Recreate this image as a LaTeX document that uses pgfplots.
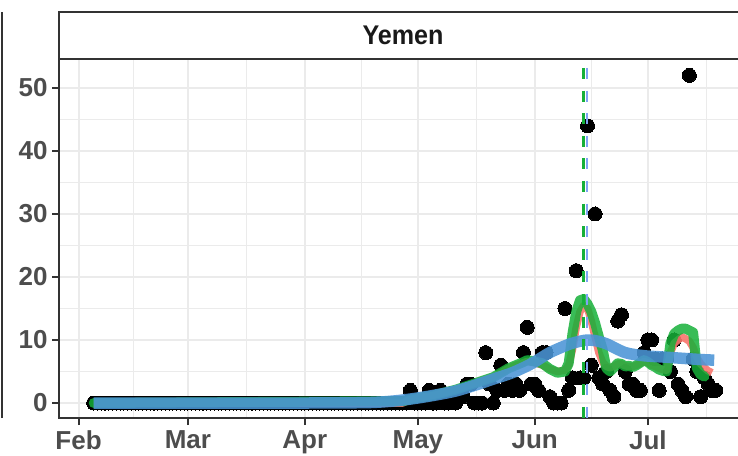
\documentclass[border=0pt]{standalone}
\usepackage{pgfplots}
\pgfplotsset{compat=1.18}
\usepackage{fontspec}
\setmainfont{Liberation Sans}
\newfontfamily\stripfont[FakeStretch=0.93]{Liberation Sans}
\definecolor{gridc}{HTML}{EBEBEB}
\definecolor{axc}{HTML}{333333}
\definecolor{txtc}{HTML}{4D4D4D}
\definecolor{redc}{HTML}{F8766D}
\definecolor{greenc}{RGB}{22,176,57}
\definecolor{bluec}{RGB}{75,148,214}
\definecolor{vblue}{HTML}{7FA3F5}
\begin{document}
\begin{tikzpicture}[x=1pt,y=1pt]
\draw[axc, line width=2pt] (1.5,37) -- (1.5,443);
\begin{axis}[
  at={(59pt,37pt)}, anchor=south west,
  scale only axis, width=688pt, height=359pt,
  xmin=-5.2, xmax=177.3, ymin=-2.38, ymax=54.6,
  axis line style={axc, line width=2pt},
  grid=both,
  major grid style={gridc, line width=2pt},
  minor grid style={gridc, line width=1pt},
  xtick={0,29,60,90,121,151},
  xticklabels={Feb,Mar,Apr,May,Jun,Jul},
  minor xtick={14.5,44.5,75,105.5,136,166.5},
  ytick={0,10,20,30,40,50},
  minor ytick={5,15,25,35,45},
  tick align=outside, tick pos=left,
  major tick length=7pt, minor tick length=0pt,
  tick style={axc, line width=2pt},
  ticklabel style={font=\fontsize{26}{26}\selectfont\bfseries, text=txtc},
  xticklabel style={yshift=-2pt},
  yticklabel style={xshift=-1pt},
  /pgf/number format/assume math mode=true,
  clip=true, clip marker paths=true,
]
\addplot[only marks, mark=*, mark size=7pt, black, mark options={line width=0pt}] table {
x y
4 0
5 0
6 0
7 0
8 0
9 0
10 0
11 0
12 0
13 0
14 0
15 0
16 0
17 0
18 0
19 0
20 0
21 0
22 0
23 0
24 0
25 0
26 0
27 0
28 0
29 0
30 0
31 0
32 0
33 0
34 0
35 0
36 0
37 0
38 0
39 0
40 0
41 0
42 0
43 0
44 0
45 0
46 0
47 0
48 0
49 0
50 0
51 0
52 0
53 0
54 0
55 0
56 0
57 0
58 0
59 0
60 0
61 0
62 0
63 0
64 0
65 0
66 0
67 0
68 0
69 0
70 0
71 0
72 0
73 0
74 0
75 0
76 0
77 0
78 0
79 0
80 0
81 0
82 0
83 0
84 0
85 0
86 0
87 0
88 2
89 0
90 0
91 0
92 0
93 2
94 0
95 0
96 2
97 0
98 0
99 1
100 0
101 1
102 1
103 3
104 3
105 0
106 0
107 0
108 8
109 3
110 0
111 2
112 6
113 2
114 3
115 2
116 3
117 2
118 8
119 12
120 3
121 3
122 2
123 8
124 8
125 1
126 0
127 0
128 0
129 15
130 2
131 4
132 21
133 4
134 4
135 44
136 6
137 30
138 4
139 3
140 5
141 2
142 1
143 13
144 14
145 5
146 3
147 3
148 2
149 2
150 8
151 10
152 10
153 7
154 2
155 7
156 7
157 5
158 10
159 3
160 2
161 1
162 52
163 7
164 5
165 1
166 4
167 3
168 2
169 2
};
\addplot[redc, opacity=0.9, line width=7.5pt, line join=round] table {
x y
4 0
86 0
88 0.6
90 0.8
92 1.0
94 1.2
96 1.5
98 1.8
100 2.1
102 2.5
104 2.9
106 3.3
108 3.7
110 4.1
112 4.8
114 5.5
116 6.0
118 6.4
119 6.6
121 6.4
123 6.0
125 5.4
127 5.0
129 5.2
130 6.0
131 8.5
132 12.0
133 14.5
134 15.5
135 15.0
136 13.0
137 10.5
138 8.0
139 6.5
140 5.8
141 5.6
142 5.8
143 6.2
144 6.2
145 5.9
146 5.8
147 5.8
148 6.0
149 6.3
150 6.6
151 6.4
152 6.0
153 5.8
154 5.5
155 5.3
156 5.2
157 8.0
158 9.5
159 10.0
160 10.5
161 10.2
162 9.8
163 8.8
164 7.2
165 6.2
166 5.6
167 5.1
168 4.8
};
\addplot[greenc, opacity=0.85, line width=10pt, line join=round, line cap=round] table {
x y
4 0
86 0.3
88 0.6
90 0.8
92 1.0
94 1.2
96 1.5
98 1.8
100 2.1
102 2.5
104 2.9
106 3.3
108 3.7
110 4.1
112 4.8
114 5.5
116 6.0
118 6.5
119 6.8
121 6.6
123 6.3
125 5.4
127 4.8
129 5.0
130 6.3
131 11.0
132 14.5
133 16.3
134 16.5
135 15.7
136 14.5
137 12.7
138 10.5
139 8.5
140 5.5
141 5.0
142 5.6
143 6.3
144 6.2
145 5.8
146 5.9
147 5.7
148 6.0
149 6.4
150 6.8
151 6.5
152 6.0
153 5.7
154 5.3
155 5.1
156 5.0
157 9.5
158 11.0
159 11.5
160 11.8
161 11.8
162 11.5
163 11.2
164 5.5
165 4.5
166 4.2
};
\addplot[bluec, opacity=0.88, line width=11.5pt, line cap=butt, line join=round, smooth] table {
x y
4 0
60 0
75 0.05
80 0.15
85 0.4
90 0.8
95 1.3
100 1.9
105 2.8
110 3.8
115 4.8
120 6.2
125 8.0
130 9.3
133 9.8
135 10.0
137 9.9
140 9.4
145 8.0
150 7.5
155 7.3
160 7.1
165 6.9
168.6 6.8
};
\addplot[greenc, line width=2.5pt, dash pattern=on 11pt off 11.6pt, dash phase=13.6pt] coordinates {(133.9,54.6) (133.9,-2.38)};
\addplot[vblue, line width=2.5pt, dash pattern=on 11pt off 11.6pt, dash phase=13.6pt] coordinates {(134.9,54.6) (134.9,-2.38)};
\end{axis}
\draw[axc, line width=2pt, fill=white] (59,396) rectangle (760,443);
\node[font=\stripfont\fontsize{27}{27}\selectfont\bfseries, text={black!90}] at (403,419.5) {Yemen};
\pgfresetboundingbox
\path[use as bounding box] (0,0) rectangle (738,455);
\end{tikzpicture}
\end{document}
